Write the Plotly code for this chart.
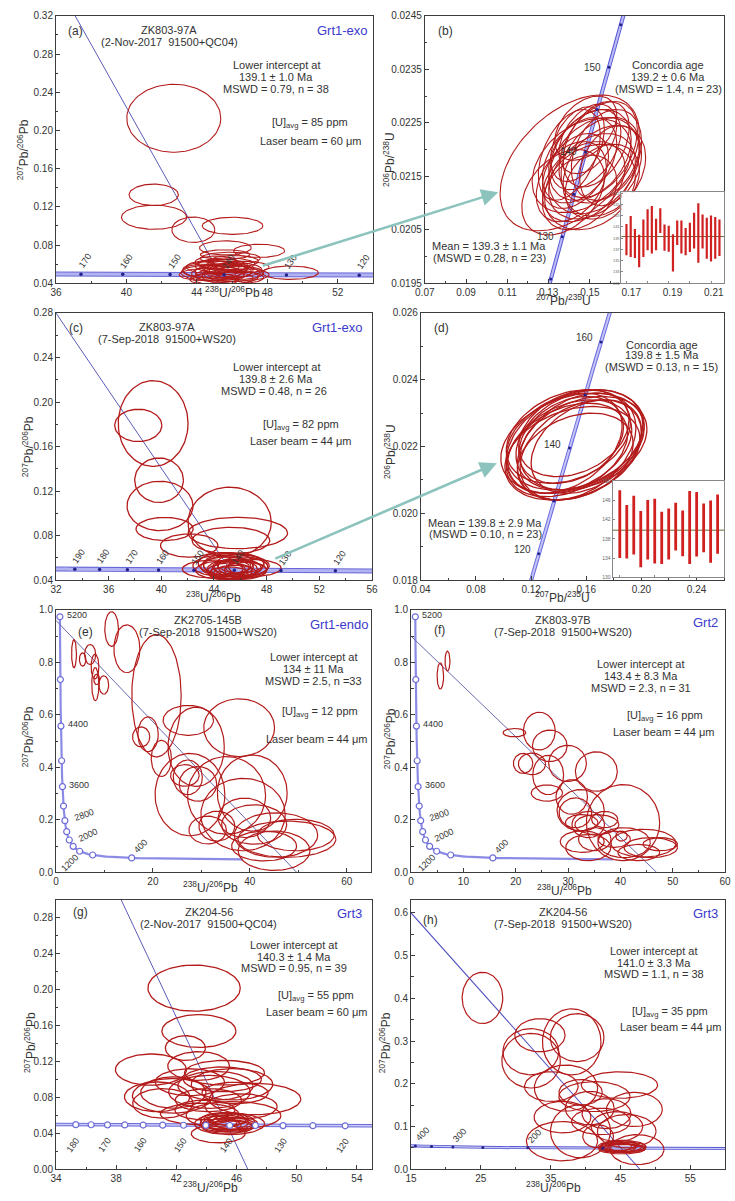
import numpy as np
import plotly.graph_objects as go

W, H = 735, 1201
FONT = "Arial, Liberation Sans, sans-serif"
TXT = "#333333"
RED = "#b31b1b"
BLUE_T = "#3a3acc"

# ---------------- decay constants (concordia) ----------------
L238 = 1.55125e-10
L235 = 9.8485e-10
U85 = 137.88

def tw(t_ma):
    t = np.asarray(t_ma, float) * 1e6
    e8 = np.exp(L238 * t) - 1
    e5 = np.exp(L235 * t) - 1
    return 1 / e8, e5 / e8 / U85

def weth(t_ma):
    t = np.asarray(t_ma, float) * 1e6
    return np.exp(L235 * t) - 1, np.exp(L238 * t) - 1

# ---------------- data: panel (a) ----------------
a_cx = [42.69, 41.55, 41.57, 43.80, 46.03, 47.54, 45.62,
        45.5, 45.2, 45.8, 45.0, 46.0, 45.6, 44.8, 46.2, 45.3, 45.9, 44.6, 46.4, 45.4,
        45.7, 46.1, 45.1, 45.9, 46.6, 44.9, 45.5, 46.3, 44.4, 45.0, 46.8, 45.6, 49.3]
a_cy = [0.2128, 0.1326, 0.1091, 0.0960, 0.1001, 0.0739, 0.0770,
        0.052, 0.050, 0.053, 0.054, 0.050, 0.056, 0.051, 0.054, 0.048, 0.047, 0.049, 0.051, 0.058,
        0.060, 0.063, 0.062, 0.066, 0.057, 0.057, 0.045, 0.046, 0.053, 0.044, 0.049, 0.070, 0.051]
a_sx = [2.67, 1.40, 1.85, 1.22, 1.72, 1.45, 1.47,
        1.6, 1.5, 1.4, 1.8, 1.6, 1.3, 1.7, 1.5, 1.4, 1.6, 1.6, 1.4, 1.5,
        1.6, 1.4, 1.2, 1.7, 1.5, 1.5, 1.7, 1.5, 1.2, 1.4, 1.3, 1.4, 1.6]
a_sy = [0.0356, 0.0112, 0.0126, 0.0133, 0.0090, 0.0069, 0.0074,
        0.0080, 0.0075, 0.0080, 0.0090, 0.0085, 0.0070, 0.0080, 0.0075, 0.0070, 0.0075, 0.0065, 0.0070, 0.0070,
        0.0065, 0.0060, 0.0065, 0.0065, 0.0060, 0.0070, 0.0075, 0.0065, 0.0070, 0.0060, 0.0060, 0.0050, 0.0070]
a_disc = [1.540, 46.82]          # [207/206 at x=0, 238/206 at y=0]
a_ages = [170, 160, 150, 140, 130, 120]

# ---------------- data: panel (b) ----------------
b_cx = [0.1402, 0.150, 0.145, 0.152, 0.148, 0.155, 0.143, 0.158, 0.147, 0.153, 0.140, 0.160,
        0.149, 0.144, 0.156, 0.151, 0.146, 0.154, 0.141, 0.157, 0.150, 0.148, 0.145, 0.137]
b_cy = [0.02175, 0.0219, 0.0218, 0.0217, 0.0220, 0.0218, 0.0216, 0.0219, 0.0214, 0.0221, 0.0219, 0.0217,
        0.0222, 0.0221, 0.0214, 0.0215, 0.0217, 0.0220, 0.0214, 0.0216, 0.0213, 0.0224, 0.0212, 0.0212]
b_sx = [0.0337, 0.020, 0.018, 0.022, 0.017, 0.019, 0.016, 0.017, 0.020, 0.016, 0.015, 0.015,
        0.014, 0.013, 0.018, 0.021, 0.024, 0.019, 0.017, 0.020, 0.022, 0.015, 0.018, 0.020]
b_sy = [0.00127, 0.00085, 0.00080, 0.00090, 0.00075, 0.00080, 0.00070, 0.00085, 0.00075, 0.00080, 0.00085, 0.00075,
        0.00065, 0.00070, 0.00070, 0.00080, 0.00088, 0.00090, 0.00075, 0.00085, 0.00080, 0.00060, 0.00070, 0.00080]
b_rho = [0.45, 0.35, 0.40, 0.30, 0.45, 0.35, 0.40, 0.30, 0.35, 0.40, 0.45, 0.30,
         0.40, 0.40, 0.30, 0.35, 0.35, 0.40, 0.35, 0.30, 0.25, 0.40, 0.30, 0.35]
b_ages = [125, 130, 135, 140, 145, 150, 155, 160]
b_lab = [150, 140, 130]
b_ins_lo = [135.96, 135.66, 135.48, 133.84, 135.67, 136.87, 136.27, 136.87, 139.91, 136.76, 136.58, 133.06,
            137.79, 136.27, 135.97, 136.57, 137.18, 134.64, 137.18, 135.36, 134.88, 135.36, 135.85]
b_ins_hi = [141.54, 142.94, 140.64, 139.60, 142.33, 144.15, 144.75, 142.45, 144.33, 141.42, 141.24, 139.72,
            142.15, 142.15, 140.81, 141.73, 143.54, 145.24, 143.24, 142.64, 143.06, 142.76, 142.33]
b_mean = 139.3

# ---------------- data: panel (c) ----------------
c_cx = [39.38, 38.25, 39.83, 39.90, 40.25, 45.19, 45.81, 42.12, 45.29,
        45.0, 45.4, 45.8, 44.6, 46.2, 45.2, 45.6, 45.9, 44.9, 45.5, 46.4, 44.5, 45.3, 46.0, 45.1, 45.7, 46.6, 43.9, 47.0]
c_cy = [0.1807, 0.1790, 0.1298, 0.1067, 0.0860, 0.0921, 0.0824, 0.0711, 0.0756,
        0.052, 0.050, 0.051, 0.053, 0.052, 0.048, 0.047, 0.049, 0.055, 0.054, 0.049, 0.049, 0.052, 0.055, 0.046, 0.053, 0.052, 0.050, 0.051]
c_sx = [2.65, 1.79, 1.85, 2.50, 2.17, 3.16, 3.78, 2.18, 2.95,
        2.0, 1.9, 1.8, 2.2, 1.9, 1.7, 1.6, 2.1, 2.1, 2.3, 1.6, 1.9, 1.4, 1.8, 1.5, 2.5, 1.5, 2.3, 2.1]
c_sy = [0.0385, 0.0145, 0.0200, 0.0222, 0.0104, 0.0314, 0.0141, 0.0104, 0.0119,
        0.0090, 0.0085, 0.0080, 0.0095, 0.0090, 0.0075, 0.0065, 0.0085, 0.0100, 0.0105, 0.0070, 0.0080, 0.0060, 0.0085, 0.0060, 0.0100, 0.0080, 0.0080, 0.0075]
c_disc = [0.8374, 48.07]
c_ages = [190, 180, 170, 160, 150, 140, 130, 120]

# ---------------- data: panel (d) ----------------
d_cx = [0.150, 0.148, 0.152, 0.146, 0.155, 0.150, 0.153, 0.147, 0.158, 0.144, 0.151, 0.156, 0.149, 0.152, 0.160]
d_cy = [0.0221, 0.0220, 0.0222, 0.0219, 0.0222, 0.0218, 0.0220, 0.0223, 0.0221, 0.0221, 0.0224, 0.0219, 0.0222, 0.0217, 0.0220]
d_sx = [0.052, 0.045, 0.050, 0.044, 0.046, 0.049, 0.043, 0.045, 0.046, 0.042, 0.040, 0.044, 0.038, 0.042, 0.040]
d_sy = [0.0015, 0.0014, 0.0015, 0.0014, 0.0015, 0.0014, 0.0016, 0.0014, 0.0014, 0.0015, 0.0013, 0.0015, 0.0013, 0.0013, 0.0014]
d_rho = [0.30, 0.35, 0.30, 0.35, 0.30, 0.30, 0.35, 0.30, 0.30, 0.35, 0.30, 0.35, 0.30, 0.30, 0.35]
d_ages = [120, 130, 140, 150, 160]
d_lab = [160, 140, 120]
d_ins_lo = [134.03, 133.89, 134.73, 132.09, 133.69, 132.85, 132.78, 133.69, 135.57, 134.38, 132.78, 134.31, 135.22, 132.99, 134.87]
d_ins_hi = [148.09, 145.03, 146.97, 143.77, 146.07, 146.35, 143.63, 144.33, 145.51, 143.91, 147.95, 147.74, 145.37, 146.00, 147.25]
d_mean = 139.8

# ---------------- data: panel (e) ----------------
e_cx = [3.72, 5.50, 7.05, 8.05, 8.12, 9.87, 8.40, 11.48, 14.63, 20.74, 17.58, 19.0, 21.74, 27.3, 28.93, 37.8,
        26.6, 27.2, 29.3, 27.65, 35.2, 38.6, 40.5, 31.3, 33.2, 40.9, 45.4, 47.65, 45.0, 49.5, 38.9, 42.95]
e_cy = [0.833, 0.811, 0.830, 0.784, 0.717, 0.714, 0.735, 0.927, 0.852, 0.673, 0.516, 0.526, 0.434, 0.579, 0.478, 0.551,
        0.369, 0.362, 0.337, 0.296, 0.293, 0.220, 0.302, 0.161, 0.176, 0.182, 0.142, 0.126, 0.082, 0.142, 0.2075, 0.100]
e_sx = [0.50, 0.67, 1.14, 0.80, 0.74, 1.00, 0.60, 1.41, 2.68, 5.10, 1.78, 2.10, 2.08, 5.20, 5.80, 7.30,
        2.95, 3.00, 3.86, 7.20, 8.05, 8.70, 7.20, 3.86, 3.70, 6.70, 8.60, 10.1, 7.40, 7.90, 5.40, 6.70]
e_sy = [0.0535, 0.025, 0.038, 0.047, 0.063, 0.035, 0.020, 0.066, 0.091, 0.233, 0.038, 0.066, 0.069, 0.057, 0.151, 0.110,
        0.041, 0.066, 0.066, 0.157, 0.148, 0.138, 0.145, 0.053, 0.057, 0.075, 0.085, 0.069, 0.075, 0.060, 0.075, 0.057]
e_disc = [0.96, 49.66]

# ---------------- data: panel (f) ----------------
f_cx = [5.59, 6.96, 19.75, 24.5, 26.5, 21.4, 23.1, 26.2, 29.9, 35.4, 25.96, 30.7, 31.4, 32.4, 40.5, 33.85,
        35.5, 35.1, 32.7, 33.85, 40.7, 44.4, 45.8, 43.5, 38.8, 32.6, 37.0, 47.6, 40.2]
f_cy = [0.748, 0.805, 0.532, 0.538, 0.482, 0.415, 0.413, 0.371, 0.415, 0.384, 0.302, 0.287, 0.2264, 0.236, 0.189, 0.182,
        0.182, 0.126, 0.117, 0.094, 0.113, 0.111, 0.094, 0.075, 0.126, 0.189, 0.201, 0.107, 0.138]
f_sx = [0.62, 0.47, 2.17, 3.04, 3.30, 1.86, 2.60, 2.95, 3.60, 4.00, 3.00, 3.00, 3.10, 4.50, 7.00, 3.10,
        4.20, 3.10, 4.20, 4.30, 5.00, 6.20, 5.10, 4.00, 3.10, 3.10, 2.50, 3.30, 1.10]
f_sy = [0.050, 0.038, 0.016, 0.072, 0.060, 0.038, 0.041, 0.075, 0.069, 0.075, 0.031, 0.066, 0.057, 0.079, 0.145, 0.050,
        0.038, 0.044, 0.041, 0.050, 0.057, 0.053, 0.038, 0.031, 0.031, 0.031, 0.031, 0.025, 0.019]
f_disc = [0.90, 46.9]

# concordia markers for (e) and (f)
ef_ages = [400, 800, 1200, 1600, 2000, 2400, 2800, 3200, 3600, 4000, 4400, 4800, 5200]
ef_lab = [5200, 4400, 3600, 2800, 2000, 1200, 400]

# ---------------- data: panel (g) ----------------
g_cx = [43.18, 43.5, 42.6, 43.48, 40.31, 45.2, 40.72, 41.8, 41.74, 41.1, 44.2, 47.23, 45.7, 45.06, 43.54, 45.8,
        44.78, 45.54, 44.13, 46.3, 44.6, 42.9, 45.9, 43.9,
        45.3, 45.6, 45.0, 45.8, 45.4, 45.1, 46.0, 44.8, 45.5, 45.7]
g_cy = [0.2018, 0.154, 0.135, 0.115, 0.111, 0.1075, 0.0807, 0.0855, 0.0818, 0.0734, 0.0862, 0.0782, 0.0947, 0.1002, 0.0617, 0.0598,
        0.0396, 0.0506, 0.077, 0.070, 0.093, 0.097, 0.085, 0.066,
        0.052, 0.050, 0.049, 0.053, 0.047, 0.055, 0.051, 0.052, 0.056, 0.048]
g_sx = [3.07, 2.46, 1.33, 2.05, 2.36, 2.66, 2.17, 2.17, 2.66, 2.00, 2.71, 3.04, 2.71, 2.60, 2.60, 3.15,
        1.79, 2.33, 2.20, 2.40, 2.50, 2.30, 2.20, 2.00,
        1.5, 1.6, 1.3, 1.4, 1.7, 1.5, 1.4, 1.2, 1.3, 1.5]
g_sy = [0.0257, 0.0183, 0.0138, 0.0160, 0.0174, 0.0138, 0.0165, 0.0174, 0.0193, 0.0165, 0.0183, 0.0174, 0.0174, 0.0138, 0.0120, 0.0156,
        0.0101, 0.0119, 0.0128, 0.0140, 0.0160, 0.0150, 0.0120, 0.0110,
        0.0080, 0.0075, 0.0070, 0.0085, 0.0070, 0.0080, 0.0070, 0.0075, 0.0070, 0.0065]
g_disc = [1.667, 46.75]
g_ages = [120, 125, 130, 135, 140, 145, 150, 155, 160, 165, 170, 175, 180]
g_lab = [180, 170, 160, 150, 140, 130, 120]

# ---------------- data: panel (h) ----------------
h_cx = [25.23, 33.47, 32.16, 38.02, 38.8, 32.2, 35.1, 37.2, 39.3, 44.86, 41.28, 36.7, 39.28, 36.63, 42.2, 45.9,
        47.4, 44.5, 40.6, 41.8, 43.0, 47.0,
        45.0, 44.6, 45.4, 45.8, 44.9, 45.2, 44.2, 46.0]
h_cy = [0.401, 0.3135, 0.275, 0.298, 0.308, 0.254, 0.1935, 0.190, 0.180, 0.197, 0.170, 0.122, 0.089, 0.0658, 0.112, 0.089,
        0.046, 0.100, 0.143, 0.077, 0.130, 0.140,
        0.052, 0.050, 0.054, 0.049, 0.056, 0.047, 0.053, 0.052]
h_sx = [2.91, 3.60, 4.00, 4.19, 3.84, 4.19, 3.84, 4.53, 3.10, 5.47, 5.10, 4.07, 4.30, 5.10, 4.20, 4.20,
        3.84, 3.70, 3.50, 2.20, 3.50, 4.00,
        3.0, 2.6, 3.2, 2.8, 2.5, 3.3, 2.4, 2.7]
h_sy = [0.060, 0.0387, 0.054, 0.0774, 0.056, 0.0639, 0.0348, 0.054, 0.030, 0.031, 0.035, 0.0368, 0.062, 0.046, 0.031, 0.039,
        0.035, 0.035, 0.039, 0.027, 0.035, 0.040,
        0.012, 0.011, 0.013, 0.010, 0.012, 0.011, 0.012, 0.011]
h_disc = [0.874, 47.79]
h_ages = [150, 200, 250, 300, 350, 400]
h_lab = [400, 300, 200]

# ---------------- layout geometry (pixels: left, top, right, bottom) ----------------
boxes = {1: (47, 10, 371, 280), 2: (424, 10, 730, 280), 3: (47, 310, 370, 580), 4: (420, 310, 730, 580),
         5: (47, 610, 369, 875), 6: (410, 610, 731, 875), 7: (47, 903, 370, 1175), 8: (410, 903, 731, 1175),
         9: (625, 188, 730, 280), 10: (616, 480, 730, 577)}

def px(x):
    return x / W

def py(y):
    return 1 - y / H

fig = go.Figure()

def ax_ids(i):
    return ("x" if i == 1 else f"x{i}"), ("y" if i == 1 else f"y{i}")

def ellipses(i, cx, cy, sx, sy, rho=None, width=1.1):
    th = np.linspace(0, 2 * np.pi, 91)
    xs, ys = [], []
    for k in range(len(cx)):
        r = 0.0 if rho is None else rho[k]
        xs += list(cx[k] + sx[k] * np.cos(th)) + [None]
        ys += list(cy[k] + sy[k] * (r * np.cos(th) + np.sqrt(1 - r * r) * np.sin(th))) + [None]
    xa, ya = ax_ids(i)
    fig.add_trace(go.Scatter(x=xs, y=ys, mode="lines", line=dict(color=RED, width=width),
                             xaxis=xa, yaxis=ya, hoverinfo="skip"))

def band(i, xs, ys, outer=5, inner=3, c_out="#6767d8", c_in="#b3b3f2"):
    xa, ya = ax_ids(i)
    fig.add_trace(go.Scatter(x=xs, y=ys, mode="lines", line=dict(color=c_out, width=outer),
                             xaxis=xa, yaxis=ya, hoverinfo="skip"))
    fig.add_trace(go.Scatter(x=xs, y=ys, mode="lines", line=dict(color=c_in, width=inner),
                             xaxis=xa, yaxis=ya, hoverinfo="skip"))

def dots(i, xs, ys, size=3.5, color="#22228a", open_=False):
    xa, ya = ax_ids(i)
    if open_:
        mk = dict(size=size, color="white", line=dict(color="#6c6cd8", width=1.2))
    else:
        mk = dict(size=size, color=color)
    fig.add_trace(go.Scatter(x=xs, y=ys, mode="markers", marker=mk, xaxis=xa, yaxis=ya,
                             hoverinfo="skip", cliponaxis=True))

def discordia(i, disc, color="#5b5bb8", width=1):
    xa, ya = ax_ids(i)
    fig.add_trace(go.Scatter(x=[0, disc[1]], y=[disc[0], 0], mode="lines",
                             line=dict(color=color, width=width), xaxis=xa, yaxis=ya, hoverinfo="skip"))

ann = []

def txt(x, y, s, size=11, color=TXT, angle=0, **kw):
    ann.append(dict(x=px(x), y=py(y), xref="paper", yref="paper", text=s, showarrow=False,
                    font=dict(family=FONT, size=size, color=color), textangle=angle,
                    xanchor=kw.get("xanchor", "center"), yanchor=kw.get("yanchor", "middle")))

def dlabel(i, x, y, s, dx, dy, angle=0, size=9, xanchor="center"):
    xa, ya = ax_ids(i)
    ann.append(dict(x=x, y=y, xref=xa, yref=ya, text=s, showarrow=False, xshift=dx, yshift=dy,
                    textangle=angle, xanchor=xanchor, yanchor="middle",
                    font=dict(family=FONT, size=size, color=TXT)))

# ---------------- (a) ----------------
ca = np.linspace(110, 185, 120)
band(1, *tw(ca))
discordia(1, a_disc)
ellipses(1, a_cx, a_cy, a_sx, a_sy)
ax_, ay_ = tw(a_ages)
dots(1, ax_, ay_)
for k, t in enumerate(a_ages):
    dlabel(1, ax_[k], ay_[k], str(t), 4, 13, angle=-55)

# ---------------- (b) ----------------
cb = np.linspace(115, 170, 120)
band(2, *weth(cb), outer=4, inner=2, c_out="#5a5ad8", c_in="#bcbcf5")
ellipses(2, b_cx, b_cy, b_sx, b_sy, b_rho)
bx_, by_ = weth(b_ages)
dots(2, bx_, by_, size=3)
for t in b_lab:
    lx, ly = weth(t)
    dlabel(2, float(lx), float(ly), str(t), -6, 0, size=10, xanchor="right")

# ---------------- (c) ----------------
cc = np.linspace(110, 205, 120)
band(3, *tw(cc))
discordia(3, c_disc)
ellipses(3, c_cx, c_cy, c_sx, c_sy, width=1.3)
cx_, cy_ = tw(c_ages)
dots(3, cx_, cy_)
for k, t in enumerate(c_ages):
    dlabel(3, cx_[k], cy_[k], str(t), 4, 13, angle=-55)

# ---------------- (d) ----------------
cd = np.linspace(110, 175, 120)
band(4, *weth(cd), outer=4, inner=2, c_out="#6a6ae0", c_in="#c3c3f6")
ellipses(4, d_cx, d_cy, d_sx, d_sy, d_rho, width=1.3)
dx_, dy_ = weth(d_ages)
dots(4, dx_, dy_, size=3)
for t in d_lab:
    lx, ly = weth(t)
    dlabel(4, float(lx), float(ly), str(t), -6, 4, size=10, xanchor="right")

# ---------------- (e) & (f) ----------------
cef = np.concatenate([np.linspace(165, 400, 60), np.linspace(400, 5200, 240)])
lab_shift = {5200: (5, 2, 0, "left"), 4400: (5, 2, 0, "left"), 3600: (5, 2, 0, "left"),
             2800: (5, 6, -20, "left"), 2000: (5, 5, -25, "left"),
             1200: (-10, -12, -45, "center"), 400: (9, 12, -45, "center")}
for i, cxs, cys, sxs, sys_, disc in [(5, e_cx, e_cy, e_sx, e_sy, e_disc), (6, f_cx, f_cy, f_sx, f_sy, f_disc)]:
    xa, ya = ax_ids(i)
    ccx, ccy = tw(cef)
    fig.add_trace(go.Scatter(x=ccx, y=ccy, mode="lines", line=dict(color="#8b8be6", width=2.2),
                             xaxis=xa, yaxis=ya, hoverinfo="skip"))
    discordia(i, disc, color="#6a6ab0", width=1)
    ellipses(i, cxs, cys, sxs, sys_, width=1.2)
    mx, my = tw(ef_ages)
    dots(i, mx, my, size=6, open_=True)
    for t in ef_lab:
        lx, ly = tw(t)
        sx_, sy_, ang, xan = lab_shift[t]
        dlabel(i, float(lx), float(ly), str(t), sx_, sy_, angle=ang, size=9, xanchor=xan)

# ---------------- (g) ----------------
cg = np.linspace(110, 195, 120)
band(7, *tw(cg), outer=3.5, inner=1.5, c_out="#6b6bd8", c_in="#cacaf6")
discordia(7, g_disc)
ellipses(7, g_cx, g_cy, g_sx, g_sy, width=1.3)
gx_, gy_ = tw(g_ages)
dots(7, gx_, gy_, size=6, open_=True)
for t in g_lab:
    lx, ly = tw(t)
    dlabel(7, float(lx), float(ly), str(t), -3, -20, angle=-55, size=9)

# ---------------- (h) ----------------
ch = np.linspace(100, 430, 120)
band(8, *tw(ch), outer=3, inner=1.2, c_out="#5a5ad0", c_in="#c6c6f4")
discordia(8, h_disc, color="#4f4fc0", width=1.1)
ellipses(8, h_cx, h_cy, h_sx, h_sy, width=1.2)
hx_, hy_ = tw(h_ages)
dots(8, hx_, hy_, size=3)
for t in h_lab:
    lx, ly = tw(t)
    dlabel(8, float(lx), float(ly), str(t), 7, 12, angle=-45, size=9)

# ---------------- insets ----------------
def inset(i, lo, hi, mean, bw):
    xa, ya = ax_ids(i)
    xs, ys = [], []
    for k in range(len(lo)):
        xs += [k + 1, k + 1, None]
        ys += [lo[k], hi[k], None]
    fig.add_trace(go.Scatter(x=[-5, len(lo) + 5], y=[mean, mean], mode="lines",
                             line=dict(color="#6d6a35", width=1), xaxis=xa, yaxis=ya, hoverinfo="skip"))
    fig.add_trace(go.Scatter(x=xs, y=ys, mode="lines", line=dict(color="#d02020", width=bw),
                             xaxis=xa, yaxis=ya, hoverinfo="skip"))

inset(9, b_ins_lo, b_ins_hi, b_mean, 2.2)
inset(10, d_ins_lo, d_ins_hi, d_mean, 2.8)

# ---------------- axes ----------------
def base_axis(dom, rng, **kw):
    d = dict(domain=dom, range=rng, showline=True, linecolor="#3c3c3c", linewidth=1, mirror=True,
             ticks="inside", ticklen=4, tickcolor="#3c3c3c", showgrid=False, zeroline=False,
             tickfont=dict(family=FONT, size=10, color=TXT), fixedrange=True)
    d.update(kw)
    return d

specs = {
    1: dict(xr=[36, 54], xt=(36, 4, None, 2), yr=[0.04, 0.32], yt=(0.04, 0.04, ".2f", 0.02)),
    2: dict(xr=[0.07, 0.215], xt=(0.07, 0.02, ".2f", 0.01), yr=[0.0195, 0.0245], yt=(0.0195, 0.001, ".4f", 0.0005)),
    3: dict(xr=[32, 56], xt=(32, 4, None, 2), yr=[0.04, 0.28], yt=(0.04, 0.04, ".2f", 0.02)),
    4: dict(xr=[0.04, 0.26], xt=(0.04, 0.04, ".2f", 0.02), yr=[0.018, 0.026], yt=(0.018, 0.002, ".3f", 0.001)),
    5: dict(xr=[0, 65], xt=(0, 20, None, 10), yr=[0, 1.0], yt=(0, 0.2, ".1f", 0.1)),
    6: dict(xr=[0, 60], xt=(0, 10, None, 5), yr=[0, 1.0], yt=(0, 0.2, ".1f", 0.1)),
    7: dict(xr=[34, 55], xt=(34, 4, None, 2), yr=[0, 0.30], yt=(0, 0.04, ".2f", 0.02)),
    8: dict(xr=[15, 60], xt=(15, 10, None, 5), yr=[0, 0.63], yt=(0, 0.1, ".1f", 0.05)),
}

lay = {}
for i, s in specs.items():
    l, t, r, b = boxes[i]
    xk = "xaxis" if i == 1 else f"xaxis{i}"
    yk = "yaxis" if i == 1 else f"yaxis{i}"
    ya_id = "y" if i == 1 else f"y{i}"
    xa_id = "x" if i == 1 else f"x{i}"
    t0, dt, fmt, mdt = s["xt"]
    xd = base_axis([px(l), px(r)], s["xr"], tick0=t0, dtick=dt, anchor=ya_id,
                   minor=dict(ticks="inside", ticklen=2.5, dtick=mdt, tick0=t0, tickcolor="#3c3c3c"))
    if fmt:
        xd["tickformat"] = fmt
    t0, dt, fmt, mdt = s["yt"]
    yd = base_axis([py(b), py(t)], s["yr"], tick0=t0, dtick=dt, anchor=xa_id, tickformat=fmt,
                   minor=dict(ticks="inside", ticklen=2.5, dtick=mdt, tick0=t0, tickcolor="#3c3c3c"))
    lay[xk] = xd
    lay[yk] = yd

# inset (b)
l, t, r, b = boxes[9]
lay["xaxis9"] = base_axis([px(l), px(r)], [-0.2, 24.1], anchor="y9", tickvals=[1, 6, 11, 16, 21],
                          showticklabels=False, ticklen=2.5, linecolor="#888888", tickcolor="#888888")
lay["yaxis9"] = base_axis([py(b), py(t)], [131, 147.2], anchor="x9", tick0=131, dtick=2, ticklen=2,
                          linecolor="#888888", tickcolor="#888888",
                          tickfont=dict(family=FONT, size=4, color="#666666"))
# inset (d)
l, t, r, b = boxes[10]
lay["xaxis10"] = base_axis([px(l), px(r)], [-0.03, 15.93], anchor="y10", tickvals=[1, 6, 11],
                           showticklabels=False, ticklen=2.5, linecolor="#888888", tickcolor="#888888")
lay["yaxis10"] = base_axis([py(b), py(t)], [130, 150], anchor="x10", tick0=130, dtick=4, ticklen=2,
                           linecolor="#888888", tickcolor="#888888",
                           tickfont=dict(family=FONT, size=5, color="#666666"))

# ---------------- texts ----------------
S = "\u00a0\u00a0"
U = "[U]<sub>avg</sub>"
panel_txt = [
    # (a)
    (67, 25, "(a)", 12, TXT), (163, 24, "ZK803-97A", 11, TXT), (163, 36, f"(2-Nov-2017{S}91500+QC04)", 11, TXT),
    (340, 25, "Grt1-exo", 13, BLUE_T), (272, 60, "Lower intercept at", 11, TXT), (272, 72, "139.1 ± 1.0 Ma", 11, TXT),
    (272, 84, "MSWD = 0.79, n = 38", 11, TXT), (307, 118, f"{U} = 85 ppm", 11, TXT), (307, 136, "Laser beam = 60 μm", 11, TXT),
    # (b)
    (445, 25, "(b)", 12, TXT), (673, 60, "Concordia age", 11, TXT), (673, 72, "139.2 ± 0.6 Ma", 11, TXT),
    (673, 84, "(MSWD = 1.4, n = 23)", 11, TXT), (490, 242, "Mean = 139.3 ± 1.1 Ma", 11, TXT),
    (490, 255, "(MSWD = 0.28, n = 23)", 11, TXT),
    # (c)
    (67, 325, "(c)", 12, TXT), (160, 324, "ZK803-97A", 11, TXT), (160, 336, f"(7-Sep-2018{S}91500+WS20)", 11, TXT),
    (335, 325, "Grt1-exo", 13, BLUE_T), (272, 365, "Lower intercept at", 11, TXT), (272, 377, "139.8 ± 2.6 Ma", 11, TXT),
    (270, 389, "MSWD = 0.48, n = 26", 11, TXT), (297, 423, f"{U} = 82 ppm", 11, TXT), (297, 439, "Laser beam = 44 μm", 11, TXT),
    # (d)
    (441, 325, "(d)", 12, TXT), (666, 342, "Concordia age", 11, TXT), (666, 353, "139.8 ± 1.5 Ma", 11, TXT),
    (666, 365, "(MSWD = 0.13, n = 15)", 11, TXT), (486, 522, "Mean = 139.8 ± 2.9 Ma", 11, TXT),
    (486, 533, "(MSWD = 0.10, n = 23)", 11, TXT),
    # (e)
    (77, 632, "(e)", 12, TXT), (202, 620, "ZK2705-145B", 11, TXT), (202, 632, f"(7-Sep-2018{S}91500+WS20)", 11, TXT),
    (337, 625, "Grt1-endo", 13, BLUE_T), (310, 658, "Lower intercept at", 11, TXT), (310, 670, "134 ± 11 Ma", 11, TXT),
    (310, 682, "MSWD = 2.5, n =33", 11, TXT), (317, 713, f"{U} = 12 ppm", 11, TXT), (313, 740, "Laser beam = 44 μm", 11, TXT),
    # (f)
    (439, 630, "(f)", 12, TXT), (565, 620, "ZK803-97B", 11, TXT), (565, 632, f"(7-Sep-2018{S}91500+WS20)", 11, TXT),
    (711, 623, "Grt2", 13, BLUE_T), (645, 665, "Lower intercept at", 11, TXT), (645, 677, "143.4 ± 8.3 Ma", 11, TXT),
    (645, 689, "MSWD = 2.3, n = 31", 11, TXT), (670, 717, f"{U} = 16 ppm", 11, TXT), (668, 733, "Laser beam = 44 μm", 11, TXT),
    # (g)
    (72, 915, "(g)", 12, TXT), (203, 915, "ZK204-56", 11, TXT), (203, 927, f"(2-Nov-2017{S}91500+QC04)", 11, TXT),
    (347, 917, "Grt3", 13, BLUE_T), (290, 948, "Lower intercept at", 11, TXT), (290, 961, "140.3 ± 1.4 Ma", 11, TXT),
    (290, 972, "MSWD = 0.95, n = 39", 11, TXT), (313, 1000, f"{U} = 55 ppm", 11, TXT), (313, 1016, "Laser beam = 60 μm", 11, TXT),
    # (h)
    (430, 923, "(h)", 12, TXT), (565, 915, "ZK204-56", 11, TXT), (565, 927, f"(7-Sep-2018{S}91500+WS20)", 11, TXT),
    (711, 917, "Grt3", 13, BLUE_T), (658, 955, "Lower intercept at", 11, TXT), (658, 967, "141.0 ± 3.3 Ma", 11, TXT),
    (658, 978, "MSWD = 1.1, n = 38", 11, TXT), (675, 1016, f"{U} = 35 ppm", 11, TXT), (675, 1031, "Laser beam = 44 μm", 11, TXT),
]
for x, y, s, sz, col in panel_txt:
    txt(x, y, s, sz, col)

XT = "<sup>238</sup>U/<sup>206</sup>Pb"
XW = "<sup>207</sup>Pb/<sup>235</sup>U"
YT = "<sup>207</sup>Pb/<sup>206</sup>Pb"
YW = "<sup>206</sup>Pb/<sup>238</sup>U"
axis_titles = [
    (227, 289, XT, 0), (13, 145, YT, -90),
    (566, 297, XW, 0), (388, 155, YW, -90),
    (208, 597, XT, 0), (18, 445, YT, -90),
    (565, 597, XW, 0), (388, 450, YW, -90),
    (205, 890, XT, 0), (18, 738, YT, -90),
    (567, 893, XT, 0), (388, 740, YT, -90),
    (205, 1193, XT, 0), (20, 1047, YT, -90),
    (556, 1193, XT, 0), (383, 1047, YT, -90),
]
for x, y, s, ang in axis_titles:
    txt(x, y, s, 12, TXT, angle=ang)

# teal arrows
ann.append(dict(x=0.1056, y=0.0212, xref="x2", yref="y2", ax=-237, ay=74, axref="pixel", ayref="pixel",
                text="", showarrow=True, arrowhead=2, arrowsize=1.3, arrowwidth=2.6, arrowcolor="#8cc3bd"))
ann.append(dict(x=0.0951, y=0.0215, xref="x4", yref="y4", ax=-223, ay=96, axref="pixel", ayref="pixel",
                text="", showarrow=True, arrowhead=2, arrowsize=1.3, arrowwidth=2.6, arrowcolor="#8cc3bd"))

fig.update_layout(width=W, height=H, margin=dict(l=0, r=0, t=0, b=0), showlegend=False,
                  paper_bgcolor="white", plot_bgcolor="white", annotations=ann,
                  font=dict(family=FONT, color=TXT), **lay)

fig.write_html("out.html", config={"displayModeBar": False},
               post_script="document.body.style.margin='0';document.body.style.padding='0';"
                           "document.body.style.overflow='hidden';")
